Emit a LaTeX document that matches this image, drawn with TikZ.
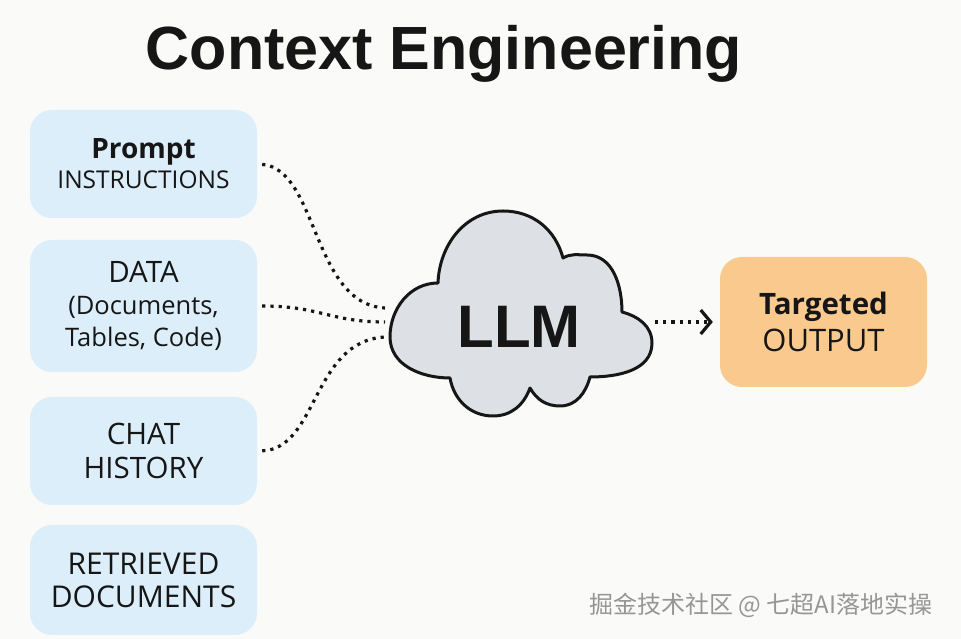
\documentclass[tikz,border=0pt]{standalone}
\usepackage{fontspec}
\usepackage{xcolor}
\usetikzlibrary{arrows.meta}

\setmainfont{Open Sans}
\newfontfamily\medfont{Open Sans}
\newfontfamily\headfont{Liberation Sans}
\newfontfamily\cjkfont{Noto Sans CJK SC}

\definecolor{paper}{RGB}{250,250,248}
\definecolor{ink}{RGB}{22,22,22}
\definecolor{cardblue}{RGB}{220,238,250}
\definecolor{outorange}{RGB}{249,201,142}
\definecolor{cloudgray}{RGB}{221,225,230}
\definecolor{markgray}{RGB}{150,150,150}

\begin{document}
\begin{tikzpicture}[x=1pt,y=1pt]
    \tikzstyle{card}=[rectangle,rounded corners=22pt,fill=cardblue,minimum width=227pt,inner sep=0pt,align=center,text=ink]
    \tikzstyle{flow}=[line width=3.2pt,dash pattern=on 3.2pt off 5pt,draw=ink]

    % Background
    \fill [paper] (0,0) rectangle (961,639);

    \node [anchor=base,text=ink,font=\headfont\bfseries\fontsize{61}{61}\selectfont] (title) at (444,569) {Context Engineering};

    % Input cards
    \node [card,minimum height=108pt,font=\medfont\fontsize{24.5}{30}\selectfont] (prompt) at (143.5,475)
        {{\rmfamily\bfseries\fontsize{28}{30}\selectfont Prompt}\\INSTRUCTIONS};
    \node [card,minimum height=132pt,font=\medfont\fontsize{25.5}{32}\selectfont] (data) at (143.5,333)
        {{\fontsize{29.5}{32}\selectfont DATA}\\(Documents,\\Tables, Code)};
    \node [card,minimum height=108pt,font=\medfont\fontsize{29.5}{34}\selectfont] (chat) at (143.5,188)
        {CHAT\\HISTORY};
    \node [card,minimum height=110pt,font=\medfont\fontsize{30}{33}\selectfont] (docs) at (143.5,59)
        {RETRIEVED\\DOCUMENTS};

    % Cloud
    \filldraw [fill=cloudgray,draw=ink,line width=3pt,line join=round]
        (438,356) to[out=88,in=180] (503,428) to[out=0,in=105] (563,381)
        to[out=30,in=180] (587,384) to[out=0,in=90] (622,327)
        to[out=-15,in=90] (652,296) to[out=-90,in=0] (590,262)
        to[out=-105,in=0] (560,233) to[out=180,in=-60] (530,251)
        to[out=-110,in=0] (493,223) to[out=180,in=-80] (450,261)
        to[out=180,in=-90] (390,302) to[out=90,in=180] (438,356) -- cycle;
    \node [anchor=base,text=ink,font=\headfont\bfseries\fontsize{60}{60}\selectfont] (llm) at (519,291) {LLM};

    \node [card,fill=outorange,minimum width=207pt,minimum height=130pt,font=\medfont\fontsize{31}{37}\selectfont] (out) at (823.5,317)
        {{\rmfamily\bfseries\fontsize{29.5}{37}\selectfont Targeted}\\OUTPUT};

    \coordinate (inA) at (385,331);
    \coordinate (inB) at (385,317);
    \coordinate (inC) at (385,302);
    \coordinate (llmR) at (655,317);

    % Dotted links
    \draw [flow,shorten <=5pt] (prompt.east) .. controls (318,470) and (312,335) .. (inA);
    \draw [flow,shorten <=5pt] (data.east) .. controls (320,333) and (330,317) .. (inB);
    \draw [flow,shorten <=5pt] (chat.east) .. controls (318,190) and (312,298) .. (inC);
    \draw [flow,shorten >=7pt,-{Straight Barb[length=10pt,width=24pt]}] (llmR) -- (out);

    \node [text=markgray,font=\cjkfont\fontsize{24}{24}\selectfont] (mark) at (761,34) {掘金技术社区 @ 七超AI落地实操};
\end{tikzpicture}
\end{document}
